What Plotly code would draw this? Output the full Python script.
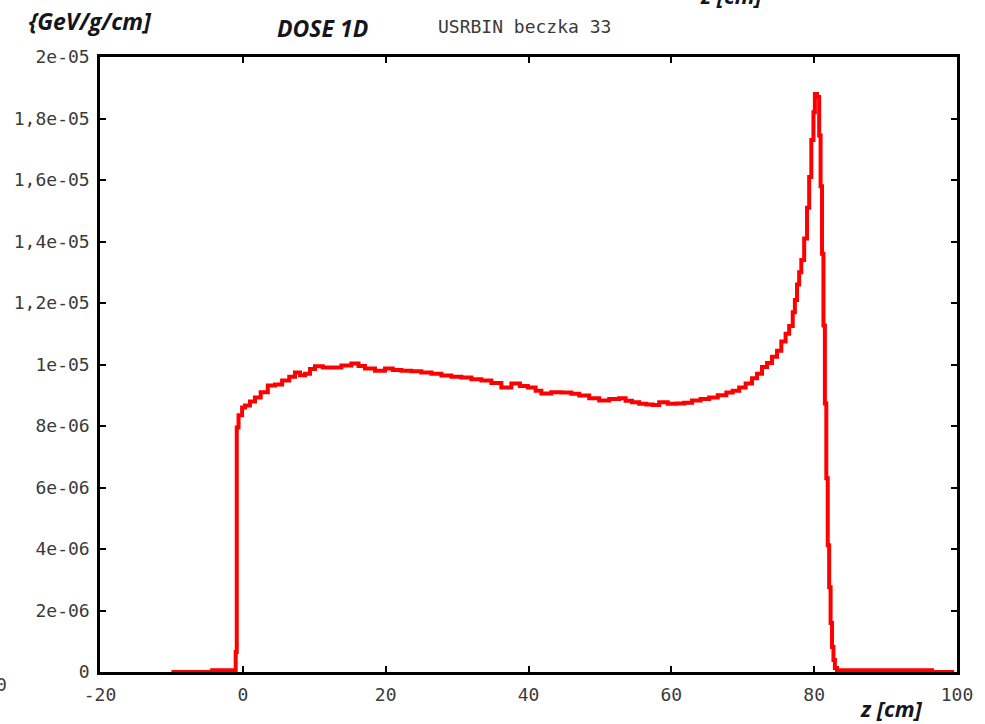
import plotly.graph_objects as go

# ---- data (bin left edges in cm, dose values in GeV/g/cm) ----
z_cm = [-10, -4.3, -1.0, -0.85, -0.6, -0.1, 0.3, 1.0, 1.7, 2.5, 3.5, 4.5, 5.5, 6.5, 7.3,
        8.0, 8.7, 9.4, 10.1, 11.2, 12.4, 13.8, 15.2, 16.2, 17.1, 18.5, 19.9, 21.0,
        22.2, 23.6, 25.0, 26.4, 27.8, 29.2, 30.6, 32.0, 33.4, 34.8, 36.2, 37.6,
        38.8, 39.9, 41.0, 41.8, 43.2, 44.6, 46.0, 47.1, 48.5, 49.9, 51.3, 52.7,
        53.6, 54.5, 55.5, 56.5, 57.4, 58.3, 59.5, 60.7, 61.8, 62.9, 64.1, 65.3,
        66.5, 67.7, 68.6, 69.5, 70.4, 71.3, 72.0, 72.7, 73.4, 74.1, 74.8, 75.4,
        76.0, 76.5, 77.0, 77.3, 77.6, 77.9, 78.2, 78.6, 79.0, 79.3, 79.6, 79.9,
        80.1, 80.4, 80.7, 80.9, 81.1, 81.3, 81.5, 81.7, 81.9, 82.1, 82.3, 82.5,
        82.7, 82.9, 83.2, 96.5, 99.6]
dose = [0.0, 6e-08, 6.5e-07, 7.95e-06, 8.35e-06, 8.6e-06, 8.67e-06, 8.8e-06, 8.93e-06,
        9.1e-06, 9.32e-06, 9.35e-06, 9.48e-06, 9.6e-06, 9.74e-06, 9.65e-06, 9.7e-06,
        9.85e-06, 9.94e-06, 9.9e-06, 9.9e-06, 9.97e-06, 1.003e-05, 9.95e-06, 9.87e-06,
        9.8e-06, 9.87e-06, 9.82e-06, 9.8e-06, 9.78e-06, 9.74e-06, 9.7e-06, 9.64e-06,
        9.6e-06, 9.58e-06, 9.52e-06, 9.48e-06, 9.4e-06, 9.25e-06, 9.38e-06, 9.3e-06,
        9.25e-06, 9.15e-06, 9.06e-06, 9.1e-06, 9.09e-06, 9.05e-06, 8.99e-06, 8.9e-06,
        8.83e-06, 8.88e-06, 8.9e-06, 8.82e-06, 8.77e-06, 8.72e-06, 8.7e-06, 8.68e-06,
        8.77e-06, 8.72e-06, 8.73e-06, 8.76e-06, 8.83e-06, 8.88e-06, 8.93e-06, 9.0e-06,
        9.09e-06, 9.15e-06, 9.25e-06, 9.38e-06, 9.55e-06, 9.7e-06, 9.92e-06, 1.005e-05,
        1.025e-05, 1.045e-05, 1.075e-05, 1.1e-05, 1.125e-05, 1.17e-05, 1.21e-05,
        1.26e-05, 1.3e-05, 1.34e-05, 1.41e-05, 1.51e-05, 1.61e-05, 1.73e-05, 1.82e-05,
        1.88e-05, 1.87e-05, 1.745e-05, 1.58e-05, 1.36e-05, 1.127e-05, 8.73e-06,
        6.3e-06, 4.12e-06, 2.76e-06, 1.59e-06, 8.1e-07, 3.9e-07, 1.3e-07, 6e-08,
        0.0, 0.0]

x_ticks = [-20, 0, 20, 40, 60, 80, 100]
x_tick_labels = ["-20", "0", "20", "40", "60", "80", "100"]
y_ticks = [0, 2e-6, 4e-6, 6e-6, 8e-6, 1e-5, 1.2e-5, 1.4e-5, 1.6e-5, 1.8e-5, 2e-5]
y_tick_labels = ["0", "2e-06", "4e-06", "6e-06", "8e-06", "1e-05", "1,2e-05",
                 "1,4e-05", "1,6e-05", "1,8e-05", "2e-05"]

W, H = 985, 724
L, R, T, B = 100, 957, 57, 672  # plot area in pixels


def px(xp):
    return (xp - L) / (R - L)


def py(yp):
    return (B - yp) / (B - T)


MONO = "DejaVu Sans Mono"
BOLDIT = "Open Sans"
TXT = "#3a3a3a"

fig = go.Figure()
fig.add_trace(go.Scatter(
    x=z_cm, y=dose, mode="lines", line=dict(color="#ff0000", width=4, shape="hv"),
    showlegend=False, hoverinfo="skip"))

axis_common = dict(
    showgrid=False, zeroline=False, showline=True, linecolor="black", linewidth=2.5,
    mirror="allticks", ticks="inside", ticklen=6, tickwidth=2, tickcolor="black",
    tickfont=dict(family=MONO, size=18, color=TXT),
)
fig.update_xaxes(range=[-20, 100], tickvals=x_ticks, ticktext=x_tick_labels,
                 ticklabelstandoff=5, **axis_common)
fig.update_yaxes(range=[0, 2e-5], tickvals=y_ticks, ticktext=y_tick_labels,
                 ticklabelstandoff=4, **axis_common)

ann = [
    dict(text="<b><i>{GeV/g/cm]</i></b>", x=px(26), y=py(21), xanchor="left", yanchor="middle",
         font=dict(family=BOLDIT, size=23, color="#151520")),
    dict(text="<b><i>DOSE 1D</i></b>", x=px(275), y=py(28), xanchor="left", yanchor="middle",
         font=dict(family=BOLDIT, size=23, color="#151520")),
    dict(text="USRBIN beczka 33", x=px(436), y=py(27), xanchor="left", yanchor="middle",
         font=dict(family=MONO, size=18, color=TXT)),
    dict(text="<b><i>z [cm]</i></b>", x=px(891), y=py(708), xanchor="center", yanchor="middle",
         font=dict(family=BOLDIT, size=22, color="#151520")),
    dict(text="<b><i>z [cm]</i></b>", x=px(731), y=py(-5), xanchor="center", yanchor="middle",
         font=dict(family=BOLDIT, size=22, color="#151520")),
    dict(text="0", x=px(1), y=py(684), xanchor="center", yanchor="middle",
         font=dict(family=MONO, size=18, color=TXT)),
]
for a in ann:
    a.update(xref="paper", yref="paper", showarrow=False)

fig.update_layout(
    width=W, height=H, margin=dict(l=L, r=W - R, t=T, b=H - B),
    paper_bgcolor="white", plot_bgcolor="white", annotations=ann,
)
fig.write_html("out.html", config={"displayModeBar": False},
               post_script="document.body.style.margin='0px';document.body.style.overflow='hidden';")
